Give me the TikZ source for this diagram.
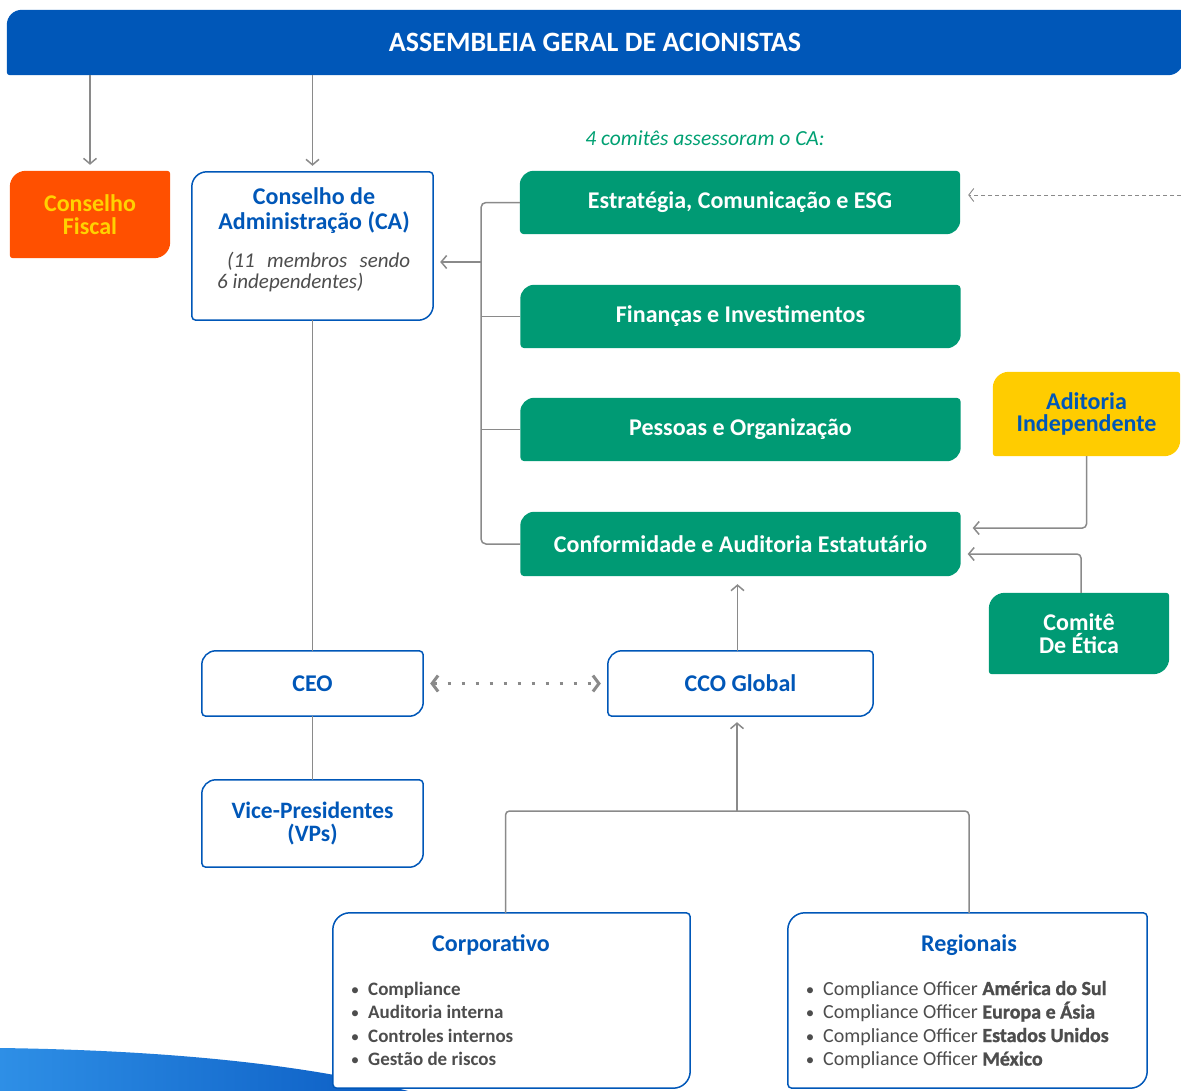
\documentclass[tikz,border=0pt]{standalone}
\usepackage{fontspec}
\setmainfont{Carlito}
\newfontfamily\heavyfam{Carlito}[FakeBold=1.2]
\usetikzlibrary{arrows.meta,calc,backgrounds}
\definecolor{cblue}{HTML}{0057B8}
\definecolor{cgreen}{HTML}{009A74}
\definecolor{corange}{HTML}{FF5000}
\definecolor{cyellowtxt}{HTML}{FFD200}
\definecolor{cyellow}{HTML}{FFCC00}
\definecolor{cgray}{HTML}{8A8A8A}
\definecolor{ctext}{HTML}{4D4D4D}
\definecolor{citgreen}{HTML}{00A072}
\definecolor{swlight}{HTML}{2E8FE6}
\definecolor{swdark}{HTML}{0A5BC2}
\newcommand\orgshape[4]{%
  \path[#2] ($(#1.north west)+(0,#3)$) arc[start angle=180,end angle=270,radius=#3]
   -- ($(#1.north east)+(-#4,0)$) arc[start angle=270,end angle=360,radius=#4]
   -- ($(#1.south east)+(0,-#3)$) arc[start angle=0,end angle=90,radius=#3]
   -- ($(#1.south west)+(#4,0)$) arc[start angle=90,end angle=180,radius=#4] -- cycle;}
\begin{document}
\begin{tikzpicture}[x=1pt,y=-1pt,
  boxn/.style={inner sep=0pt, align=center, font=\fontsize{24}{22.5}\selectfont\bfseries},
  gbox/.style={boxn, text=white, minimum width=440, minimum height=63},
  wbox/.style={boxn, text=cblue},
  outl/.style={fill=white, draw=cblue, line width=1.5pt},
  conn/.style={draw=cgray, line width=1.5pt},
  arr/.style={conn, -{Straight Barb[length=5.5pt,width=13pt,line width=1.5pt]}},
  dotarr/.style={draw=cgray, line width=3pt, dash pattern=on 3pt off 11pt,
     {Straight Barb[length=6pt,width=16pt,line width=3pt]}-{Straight Barb[length=6pt,width=16pt,line width=3pt]}},
  item/.style={inner sep=0pt, anchor=base west, text=ctext, font=\fontsize{20}{22}\selectfont},
  bul/.style={inner sep=0pt, anchor=base, text=ctext, font=\fontsize{17}{20}\selectfont}
]
\useasboundingbox (0,0) rectangle (1181,1090);

% nodes
\node[boxn, text=white, minimum width=1176, minimum height=65, font=\fontsize{28}{30}\selectfont\bfseries] (bar) at (595,42.5) {ASSEMBLEIA GERAL DE ACIONISTAS};
\node[boxn, text=cyellowtxt, minimum width=160, minimum height=87] (cf) at (90,214.5) {Conselho\\Fiscal};
\node[boxn, minimum width=241, minimum height=148] (ca) at (312.5,246) {};
\node[wbox, font=\fontsize{24}{25}\selectfont\bfseries] (catitle) at (314,210.5) {Conselho de\\Administração (CA)};
\node[inner sep=0pt, anchor=west, align=left, text=ctext, font=\fontsize{21}{21}\selectfont\itshape] (catext) at (217,272) {\hspace*{10pt}\makebox[183pt][s]{(11 membros sendo}\\6 independentes)};
\node[inner sep=0pt, text=citgreen, font=\fontsize{21.5}{23}\selectfont\itshape] (note) at (705,138) {4 comitês assessoram o CA:};
\node[gbox] (est) at (740,202.5) {Estratégia, Comunicação e ESG};
\node[gbox] (fin) at (740.5,316.5) {Finanças e Investimentos};
\node[gbox] (pes) at (740.5,429.5) {Pessoas e Organização};
\node[gbox, minimum height=64] (conf) at (740.5,544) {Conformidade e Auditoria Estatutário};
\node[boxn, text=cblue, minimum width=187, minimum height=84] (aud) at (1086.5,414) {Aditoria\\Independente};
\node[boxn, text=white, minimum width=180, minimum height=81] (etica) at (1079,633.5) {Comitê\\De Ética};
\node[wbox, minimum width=221, minimum height=65] (ceo) at (312.5,683.5) {CEO};
\node[wbox, minimum width=265, minimum height=65] (cco) at (740.5,683.5) {CCO Global};
\node[wbox, minimum width=221, minimum height=87, font=\fontsize{23.5}{23}\selectfont\bfseries] (vps) at (312.5,823.5) {Vice-Presidentes\\(VPs)};
\node[boxn, minimum width=357, minimum height=175] (corp) at (511.5,1000.5) {};
\node[boxn, minimum width=359, minimum height=175] (reg) at (967.5,1000.5) {};
\node[wbox] (corptitle) at (491,945) {Corporativo};
\node[wbox] (regtitle) at (969,945) {Regionais};

\foreach \t [count=\i] in {Compliance,Auditoria interna,Controles internos,Gestão de riscos}{
  \node[bul] (cb\i) at (355,{995+23.5*(\i-1)}) {•};
  \node[item, font=\fontsize{19}{21}\selectfont\bfseries] (ci\i) at (368,{995+23.5*(\i-1)}) {\t};
}
\foreach \t [count=\i] in {América do Sul,Europa e Ásia,Estados Unidos,México}{
  \node[bul] (rb\i) at (810,{995+23.5*(\i-1)}) {•};
  \node[item] (ri\i) at (823,{995+23.5*(\i-1)}) {Compliance Officer {\heavyfam\bfseries\t}};
}

% shapes
\begin{pgfonlayer}{background}
\path[left color=swlight, right color=swdark] (0,1048) .. controls (150,1050) and (300,1062) .. (412,1092) -- (0,1092) -- cycle;
\orgshape{bar}{fill=cblue}{15}{3}
\orgshape{cf}{fill=corange}{16}{3}
\orgshape{ca}{outl}{15}{4}
\orgshape{est}{fill=cgreen}{14}{4}
\orgshape{fin}{fill=cgreen}{14}{4}
\orgshape{pes}{fill=cgreen}{14}{4}
\orgshape{conf}{fill=cgreen}{14}{4}
\orgshape{aud}{fill=cyellow}{16}{3}
\orgshape{etica}{fill=cgreen}{16}{3}
\orgshape{ceo}{outl}{14}{4}
\orgshape{cco}{outl}{14}{4}
\orgshape{vps}{outl}{14}{4}
\orgshape{corp}{outl}{17}{4}
\orgshape{reg}{outl}{17}{4}
\end{pgfonlayer}

% connectors
\draw[arr, shorten >=6pt] (cf.north |- bar.south) -- (cf.north);
\draw[arr, shorten >=6pt] (ca.north |- bar.south) -- (ca.north);
\coordinate (brk) at (481,0);
\coordinate (brkca) at (481,262);
\draw[conn, rounded corners=5pt] (est.west) -| (brkca) |- (conf.west);
\draw[conn] (fin.west) -- (fin.west -| brk);
\draw[conn] (pes.west) -- (pes.west -| brk);
\draw[arr, shorten >=7pt] (brkca) -- (brkca -| ca.east);
\coordinate (dsrc) at (1181,195);
\draw[draw=cgray, line width=0.9pt, dash pattern=on 4pt off 3pt, -{Straight Barb[length=5pt,width=13pt,line width=0.9pt]}, shorten >=8pt] (dsrc) -- (dsrc -| est.east);
\draw[arr, rounded corners=4pt, shorten >=12pt] (aud.south) |- ($(conf.east)+(0,-16)$);
\draw[arr, rounded corners=4pt, shorten >=7pt] ([xshift=2pt]etica.north) |- ($(conf.east)+(0,10)$);
\draw[conn] (ca.south) -- (ceo.north);
\draw[conn] (ceo.south) -- (vps.north);
\draw[arr, shorten >=8pt] ([xshift=-3pt]cco.north) -- ([xshift=-3pt]cco.north |- conf.south);
\draw[dotarr, shorten >=7pt, shorten <=7pt] (ceo.east) -- (cco.west);
\coordinate (jn) at (737,811);
\draw[conn, rounded corners=4pt] ([xshift=-6pt]corp.north) |- (jn) -| ([xshift=1.5pt]reg.north);
\draw[arr, shorten >=6pt] (jn) -- (jn |- cco.south);
\end{tikzpicture}
\end{document}
